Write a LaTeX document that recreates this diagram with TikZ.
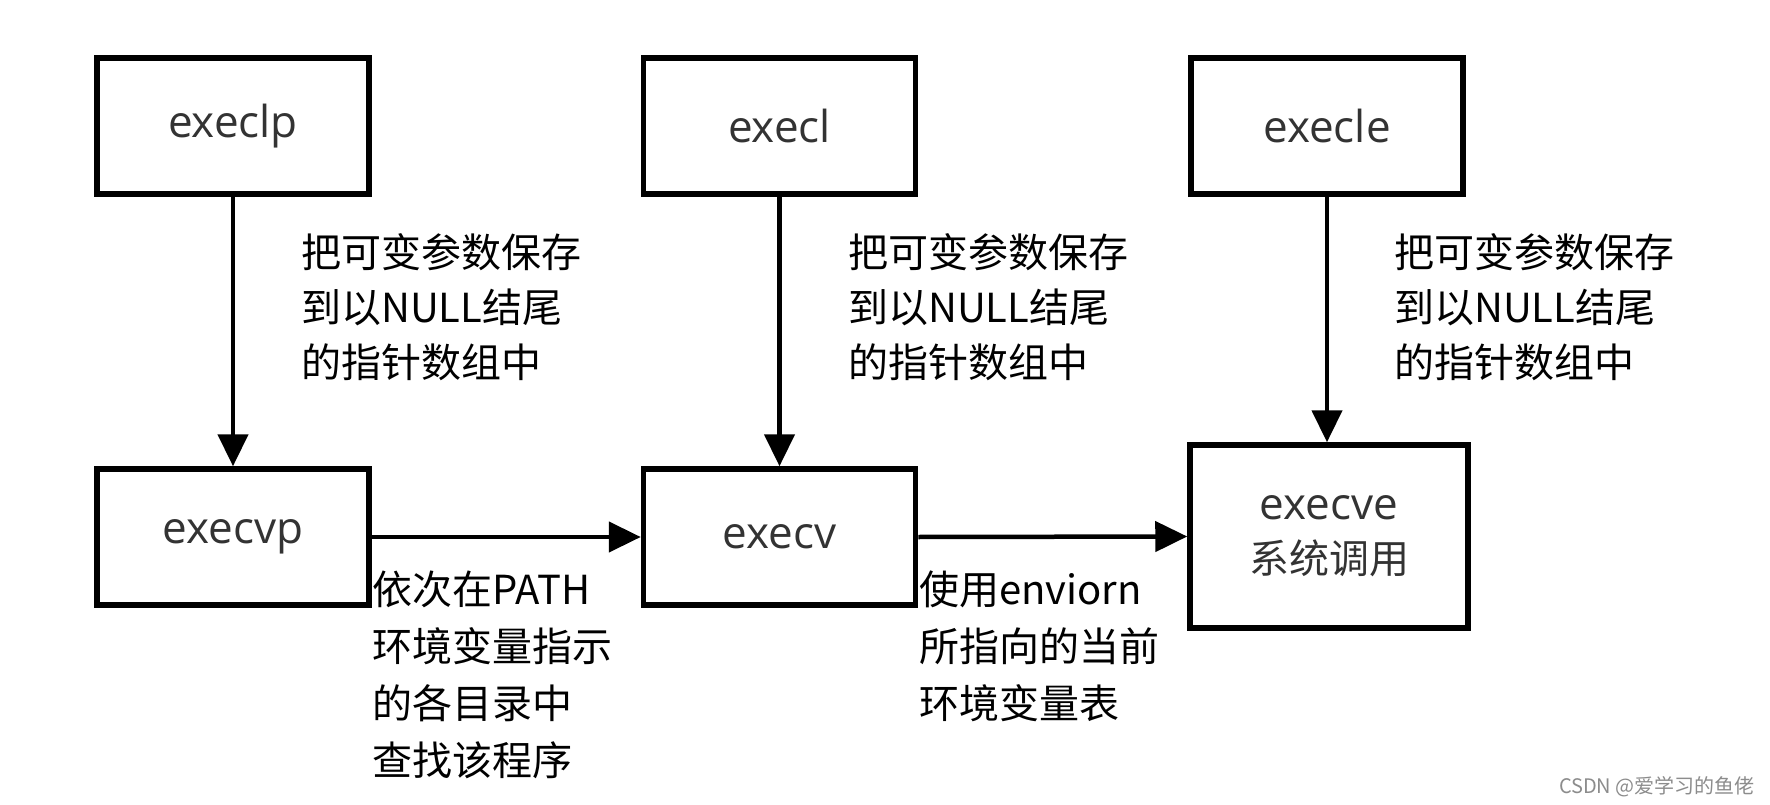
\documentclass[tikz,border=0pt]{standalone}
\usepackage{fontspec}
\setmainfont{Open Sans}
\newfontfamily\cjk{Noto Sans CJK SC}
\usetikzlibrary{arrows.meta}
\begin{document}
\begin{tikzpicture}[x=1pt,y=-1pt,
  box/.style={draw,line width=5.5pt,minimum width=272pt,minimum height=136pt,inner sep=0pt,
    font=\fontsize{44}{54}\selectfont,text=black!80},
  conn/.style={line width=4.5pt,-{Triangle[length=32pt,width=30pt]}},
  lbl/.style={anchor=north west,inner sep=0pt,align=left,font=\cjk\fontsize{40}{55}\selectfont},
  lblb/.style={lbl,font=\cjk\fontsize{40}{57}\selectfont}]
\useasboundingbox (0,0) rectangle (1770,805);
\fill[white] (0,0) rectangle (1770,805);

\node[box] (execlp) at (233,126) {execlp};
\node[box] (execl)  at (779.5,126) {execl};
\node[box] (execle) at (1327,126) {execle};
\node[box] (execvp) at (233,537) {execvp};
\node[box] (execv)  at (779.5,537) {execv};
\node[box,minimum width=278pt,minimum height=183pt,align=center] (execve) at (1329,536.5)
  {execve\\{\cjk\fontsize{40}{54}\selectfont 系统调用}};

\draw[conn] (execlp.south) -- (execvp.north);
\draw[conn] (execl.south) -- (execv.north);
\draw[conn] (execle.south) -- (execle.south |- execve.north);
\draw[conn] (execvp.east) -- (execv.west);
\draw[conn] (execv.east) -- (execve.west);

\node[lbl] (l1) at (301,233) {把可变参数保存\\到以NULL结尾\\的指针数组中};
\node[lbl] (l2) at (848,233) {把可变参数保存\\到以NULL结尾\\的指针数组中};
\node[lbl] (l3) at (1394,233) {把可变参数保存\\到以NULL结尾\\的指针数组中};
\node[lblb] (l4) at (372,571) {依次在PATH\\环境变量指示\\的各目录中\\查找该程序};
\node[lblb] (l5) at (919,571) {使用enviorn\\所指向的当前\\环境变量表};

\node[anchor=east,inner sep=0pt,text=black!45,font=\cjk\fontsize{20}{20}\selectfont] (wm) at (1755,787) {CSDN @爱学习的鱼佬};
\end{tikzpicture}
\end{document}
